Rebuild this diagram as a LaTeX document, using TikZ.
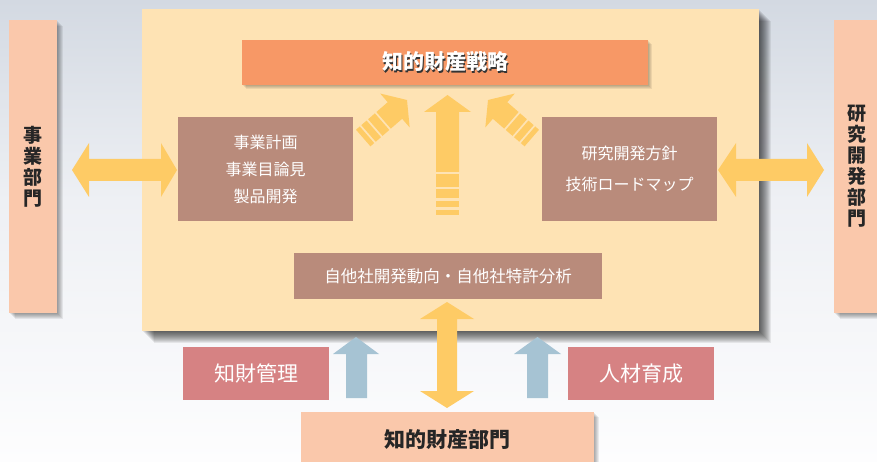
\documentclass[tikz,border=0pt]{standalone}
\usepackage{fontspec}
\newfontfamily\jp{Noto Sans CJK JP}
\definecolor{skytop}{HTML}{D3D9E2}
\definecolor{skymid}{HTML}{EEF0F4}
\definecolor{skybot}{HTML}{FDFDFE}
\definecolor{mainc}{HTML}{FEE3B4}
\definecolor{topc}{HTML}{F79866}
\definecolor{innerc}{HTML}{B98B7B}
\definecolor{arrowyellow}{HTML}{FECB65}
\definecolor{arrowblue}{HTML}{A6C3D3}
\definecolor{rosec}{HTML}{D68283}
\definecolor{peach}{HTML}{FAC8AB}
\newcommand\shadowtext[1]{\rlap{\kern1.6pt\raisebox{-1.6pt}{\textcolor{black!80}{#1}}}#1}
\newcommand\softshadow[5]{\foreach \k in {1,...,#5}{\fill[black,opacity=0.07] (#1+\k,#2+\k) rectangle (#3+\k,#4+\k);}}
\begin{document}
\begin{tikzpicture}[x=1pt,y=-1pt,
  box/.style={rectangle, inner sep=0pt, draw=none, align=center},
  yarrow/.style={fill=arrowyellow, draw=none},
  barrow/.style={fill=arrowblue, draw=none}]
\useasboundingbox (0,0) rectangle (877,462);
\clip (0,0) rectangle (877,462);
% background sky
\fill[top color=skytop, bottom color=skymid] (0,0) rectangle (877,200);
\fill[top color=skymid, bottom color=skybot] (0,200) rectangle (877,462);
% shadows
\softshadow{142}{9}{759}{331}{12}
\softshadow{9}{20}{57}{313}{6}
\softshadow{834}{20}{880}{313}{6}
\softshadow{301}{412}{594}{470}{5}
% side bars
\node[box, fill=peach, minimum width=48, minimum height=293,
      font=\jp\bfseries\fontsize{19}{21}\selectfont, text=black!85] (jigyo) at (33,166.5) {事\\業\\部\\門};
\node[box, fill=peach, minimum width=46, minimum height=293,
      font=\jp\bfseries\fontsize{19}{21}\selectfont, text=black!85] (kenkyu) at (857,166.5) {研\\究\\開\\発\\部\\門};
% main box
\node[box, fill=mainc, minimum width=617, minimum height=322] (main) at (450.5,170) {};
% top strategy box
\softshadow{242}{40}{648}{85}{4}
\node[box, fill=topc, minimum width=406, minimum height=45,
      font=\jp\bfseries\fontsize{21}{21}\selectfont, text=white] (strategy) at (445,62.5) {\shadowtext{知的財産戦略}};
% inner boxes
\node[box, fill=innerc, minimum width=175, minimum height=104,
      font=\jp\fontsize{16}{27}\selectfont, text=white] (plan) at (265.5,169) {事業計画\\事業目論見\\製品開発};
\node[box, fill=innerc, minimum width=175, minimum height=104,
      font=\jp\fontsize{16}{31}\selectfont, text=white] (policy) at (629.5,169) {研究開発方針\\技術ロードマップ};
\node[box, fill=innerc, minimum width=308, minimum height=46,
      font=\jp\fontsize{16.5}{20}\selectfont, text=white] (analysis) at (448,276) {自他社開発動向・自他社特許分析};
% lower boxes
\node[box, fill=rosec, minimum width=146, minimum height=53,
      font=\jp\fontsize{21}{21}\selectfont, text=white] (kanri) at (256,373.5) {知財管理};
\node[box, fill=rosec, minimum width=146, minimum height=53,
      font=\jp\fontsize{21}{21}\selectfont, text=white] (jinzai) at (641,373.5) {人材育成};
\node[box, fill=peach, minimum width=293, minimum height=56,
      font=\jp\bfseries\fontsize{21}{21}\selectfont, text=black!85] (ipdept) at (447.5,440) {\raisebox{2pt}{知的財産部門}};
% central up arrow with stripes
\fill[yarrow] (447.5,95) -- (471,112) -- (459,112) -- (459,172) -- (436,172) -- (436,112) -- (424,112) -- cycle;
\fill[yarrow] (436,174) rectangle (459,187.3);
\fill[yarrow] (436,188.6) rectangle (459,197.8);
\fill[yarrow] (436,201) rectangle (459,207.3);
\fill[yarrow] (436,210) rectangle (459,215);
% diagonal arrows
\begin{scope}[shift={(407,100)}, rotate=41]
  \fill[yarrow] (0,0) -- (-16,-22.5) -- (-16,-11) -- (-31,-11) -- (-31,11) -- (-16,11) -- (-16,22.5) -- cycle;
  \fill[yarrow] (-33,-11) rectangle (-42,11);
  \fill[yarrow] (-44,-11) rectangle (-51,11);
  \fill[yarrow] (-53,-11) rectangle (-58,11);
\end{scope}
\begin{scope}[shift={(488,100)}, rotate=139]
  \fill[yarrow] (0,0) -- (-16,-22.5) -- (-16,-11) -- (-31,-11) -- (-31,11) -- (-16,11) -- (-16,22.5) -- cycle;
  \fill[yarrow] (-33,-11) rectangle (-42,11);
  \fill[yarrow] (-44,-11) rectangle (-51,11);
  \fill[yarrow] (-53,-11) rectangle (-58,11);
\end{scope}
% horizontal double arrows
\fill[yarrow] (72,170) -- (89,143) -- (89,159) -- (161,159) -- (161,143) -- (177,170) -- (161,197) -- (161,181) -- (89,181) -- (89,197) -- cycle;
\fill[yarrow] (718,170) -- (736,143) -- (736,159) -- (807,159) -- (807,143) -- (824,170) -- (807,197) -- (807,181) -- (736,181) -- (736,197) -- cycle;
% vertical double arrow
\fill[yarrow] (447,302) -- (474,319) -- (457,319) -- (457,391) -- (474,391) -- (447,408) -- (420,391) -- (437,391) -- (437,319) -- (420,319) -- cycle;
% blue arrows
\fill[barrow] (356,337) -- (379,354) -- (367,354) -- (367,398) -- (346,398) -- (346,354) -- (333,354) -- cycle;
\fill[barrow] (537.5,337) -- (561,354) -- (548,354) -- (548,398) -- (527,398) -- (527,354) -- (514,354) -- cycle;
\end{tikzpicture}
\end{document}
